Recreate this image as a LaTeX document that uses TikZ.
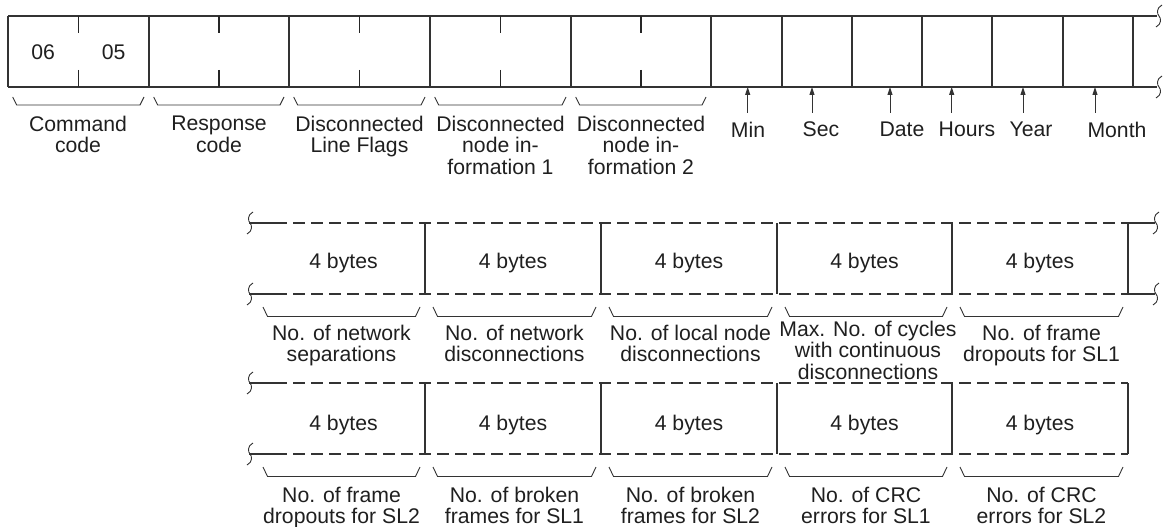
\documentclass[tikz,border=0pt]{standalone}
\usepackage{fontspec}
\setmainfont{Liberation Sans}
\usetikzlibrary{arrows.meta}
\begin{document}
\begin{tikzpicture}[x=1pt,y=-1pt,
  frame/.style={line width=1.1pt, draw=black!80},
  tick/.style={line width=1.3pt, draw=black!85},
  brace/.style={line width=0.9pt, draw=black!80},
  dashline/.style={frame, dash pattern=on 12pt off 6pt},
  lbl/.style={font=\fontsize{21.2}{21.8}\selectfont, text=black!88, align=center, inner sep=0pt, anchor=north},
  val/.style={font=\fontsize{21.2}{21.8}\selectfont, text=black!88, inner sep=0pt, anchor=base},
  ptr/.style={line width=1pt, draw=black!80, -{Triangle[length=8pt,width=5pt]}},
  wavy/.pic={\draw[line width=0.9pt, draw=black!80] (3,-11) .. controls (-3,-8) and (-2,-2) .. (0,0) .. controls (2,2) and (3,8) .. (-3,11);}
]
\useasboundingbox (0,0) rectangle (1163,527);

% ---------- Row 1 ----------
\draw[frame] (8,16) -- (1157,16);
\draw[frame] (8,87) -- (1157,87);
\foreach \x in {8,149,289,430,571,711,782,852,922,992,1063,1133}
  \draw[frame] (\x,16) -- (\x,87);
\foreach \x in {78.5,219,359.5,500.5,641} {
  \draw[tick] (\x,16) -- (\x,33);
  \draw[tick] (\x,70) -- (\x,87);
}
\pic at (1159,16) {wavy};
\pic at (1159,87) {wavy};

\node[val] (c06) at (43.25,60) {06};
\node[val] (c05) at (113.75,60) {05};

\foreach \a/\b in {8/149,149/289,289/430,430/571,571/711}
  \draw[brace] (\a+4.7,97) -- (\a+8.7,105) -- (\b-9,105) -- (\b-5,97);

\node[lbl] (cmd)  at (78,115.5)  {Command\\code};
\node[lbl] (resp) at (219,115.5) {Response\\code};
\node[lbl] (dlf)  at (359.5,115.5) {Disconnected\\Line Flags};
\node[lbl] (dn1)  at (500.5,115.5) {Disconnected\\node in-\\formation 1};
\node[lbl] (dn2)  at (641,115.5) {Disconnected\\node in-\\formation 2};

\foreach \n/\x/\lx/\t in {min/747.7/748/Min, sec/812/821/Sec, date/890/902/Date, hours/951.7/967/Hours, year/1023/1031/Year, month/1095/1117/Month} {
  \coordinate (\n-b) at (\x,113);
  \coordinate (\n-t) at (\x,87);
  \draw[ptr] (\n-b) -- (\n-t);
  \node[lbl] (\n) at (\lx,121.5) {\t};
}

% ---------- Row 2 ----------
\draw[frame] (249,223) -- (275,223);
\draw[frame] (249,294) -- (275,294);
\draw[dashline] (275,223) -- (1128,223);
\draw[dashline] (275,294) -- (1128,294);
\draw[frame] (1128,223) -- (1155,223);
\draw[frame] (1128,294) -- (1155,294);
\foreach \x in {425,601,777,952,1128}
  \draw[frame] (\x,223) -- (\x,294);
\pic at (250,223) {wavy};
\pic at (250,294) {wavy};
\pic at (1156,223) {wavy};
\pic at (1156,294) {wavy};

\foreach \n/\x in {a/343.5,b/513,c/689,d/864.5,e/1040}
  \node[val] (r2\n) at (\x,268) {4 bytes};

\foreach \a/\b in {255/425,425/601,601/777,777/952,952/1128} {
  \draw[brace] (\a+8,307) -- (\a+12.5,316.5) -- (\b-9.5,316.5) -- (\b-5,307);
  \draw[brace] (\a+8,467) -- (\a+12.5,476.5) -- (\b-9.5,476.5) -- (\b-5,467);
}

\node[lbl] (l2a) at (341.5,324.5) {No. of network\\separations};
\node[lbl] (l2b) at (514.5,324.5) {No. of network\\disconnections};
\node[lbl] (l2c) at (690.5,324.5) {No. of local node\\disconnections};
\node[lbl] (l2d) at (868,320.5) {Max. No. of cycles\\with continuous\\disconnections};
\node[lbl] (l2e) at (1041.5,324.5) {No. of frame\\dropouts for SL1};

% ---------- Row 3 ----------
\draw[frame] (249,383) -- (275,383);
\draw[frame] (249,454) -- (275,454);
\draw[dashline] (275,383) -- (1128,383);
\draw[dashline] (275,454) -- (1128,454);
\foreach \x in {425,601,777,952,1128}
  \draw[frame] (\x,383) -- (\x,454);
\pic at (250,383) {wavy};
\pic at (250,454) {wavy};

\foreach \n/\x in {a/343.5,b/513,c/689,d/864.5,e/1040}
  \node[val] (r3\n) at (\x,430) {4 bytes};

\node[lbl] (l3a) at (341.5,486.5) {No. of frame\\dropouts for SL2};
\node[lbl] (l3b) at (514.5,486.5) {No. of broken\\frames for SL1};
\node[lbl] (l3c) at (690.5,486.5) {No. of broken\\frames for SL2};
\node[lbl] (l3d) at (866,486.5) {No. of CRC\\errors for SL1};
\node[lbl] (l3e) at (1041.5,486.5) {No. of CRC\\errors for SL2};
\end{tikzpicture}
\end{document}
